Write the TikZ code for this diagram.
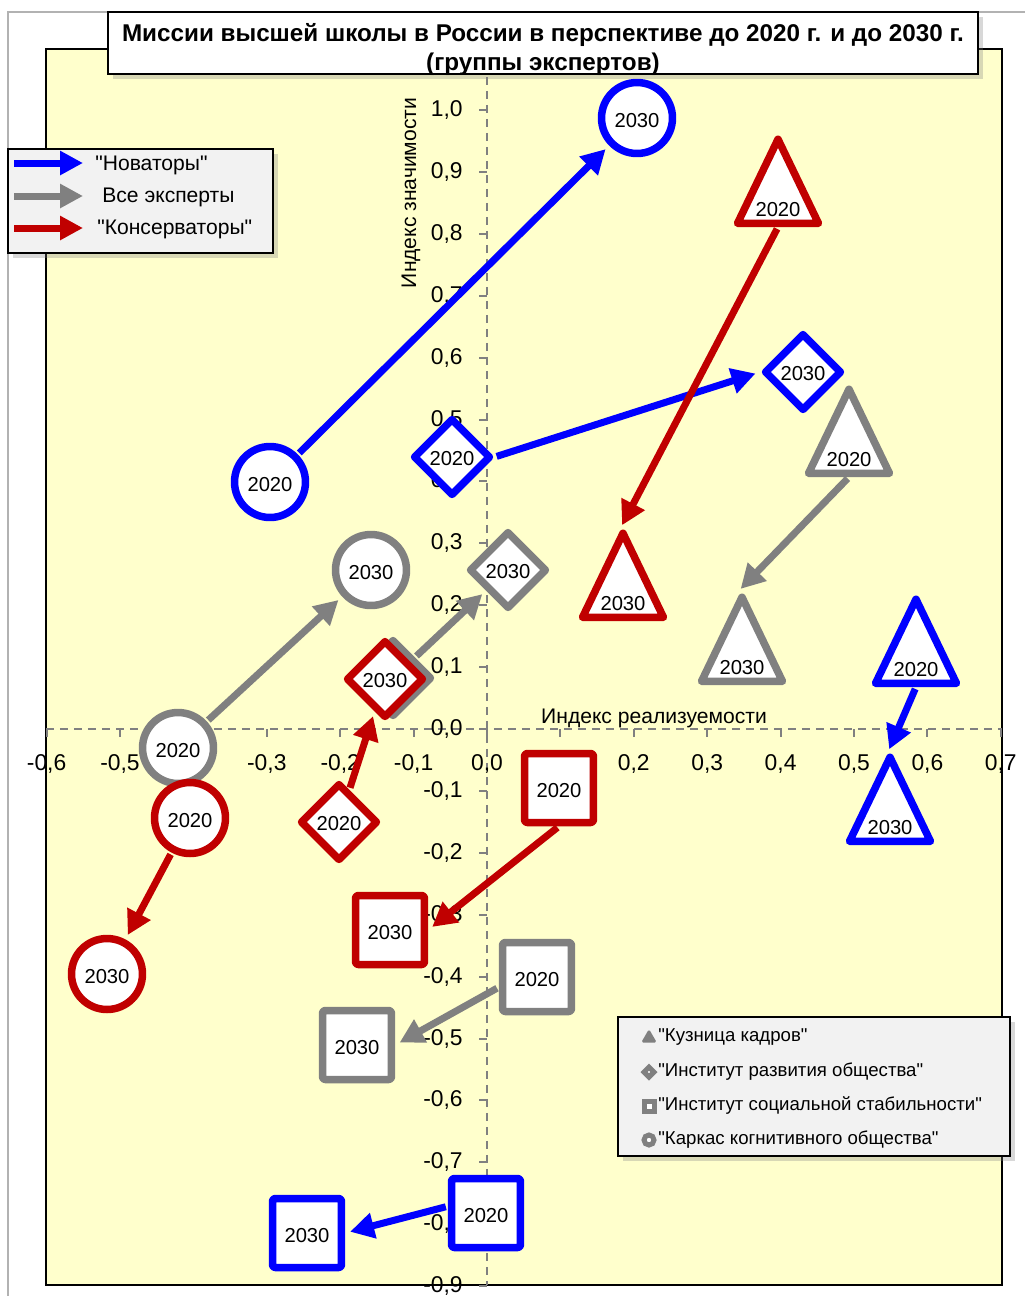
\documentclass[tikz,border=0pt]{standalone}
\usepackage{fontspec}
\setmainfont{Liberation Sans}[Ligatures=TeXOff]
\usetikzlibrary{shapes.geometric,arrows.meta,shadows}
\definecolor{novblue}{RGB}{0,0,255}
\definecolor{vsegray}{RGB}{128,128,128}
\definecolor{konred}{RGB}{192,0,0}
\definecolor{plotfill}{RGB}{255,255,204}
\definecolor{legfill}{RGB}{242,242,242}
\begin{document}
\begin{tikzpicture}[x=0.02cm,y=-0.02cm,>={Triangle[length=0.48cm,width=0.5cm]},
    mkr/.style={draw,fill=white,line width=0.15cm,line join=round,inner sep=0pt,font=\fontsize{11.5}{13}\selectfont},
    kar/.style={mkr,circle,minimum size=1.42cm,text height=11pt,text depth=0pt},
    razv/.style={mkr,diamond,minimum size=1.56cm,text height=10pt,text depth=0pt},
    stab/.style={mkr,rectangle,rounded corners=1.5pt,minimum size=1.38cm,text height=11pt,text depth=0pt},
    kuz/.style={mkr,isosceles triangle,isosceles triangle stretches=true,shape border rotate=90,minimum width=1.62cm,minimum height=1.48cm,inner sep=2pt},
    link/.style={->,line width=0.14cm,shorten <=0.04cm,shorten >=0.1cm},
    kuzlink/.style={link,shorten >=-0.04cm},
    axisln/.style={vsegray,line width=0.05cm,dash pattern=on 0.16cm off 0.12cm},
    tickln/.style={vsegray,line width=0.04cm},
    ticklbl/.style={inner sep=0pt,font=\fontsize{13}{15}\selectfont},
    axtitle/.style={inner sep=0pt,font=\fontsize{12}{14}\selectfont},
    legbox/.style={draw,fill=legfill,line width=0.04cm,drop shadow={opacity=0.3}},
    legtxt/.style={inner sep=0pt,anchor=west,font=\fontsize{12}{14}\selectfont},
    legtxtb/.style={inner sep=0pt,anchor=west,font=\fontsize{10.6}{12}\selectfont},
    legarr/.style={-{Triangle[length=0.46cm,width=0.46cm]},line width=0.14cm},
    legsym/.style={draw=vsegray,fill=white,line width=0.1cm,inner sep=0pt,minimum size=0.2cm}]
    \useasboundingbox (0,0) rectangle (1025,1296);
    \fill[white] (0,0) rectangle (1025,1296);
    \draw[gray!60,line width=0.03cm] (8,1296) -- (8,12) -- (1025,12);
    \draw[fill=plotfill,line width=0.04cm] (46,49) rectangle (1002,1285);
    \draw[axisln] (46,729) -- (1002,729);
    \draw[axisln] (487,49) -- (487,1285);
    \foreach \i in {-6,...,7}
        \draw[tickln] ({487+73.4*\i},729) -- ++(0,8);
    \foreach \i in {-9,...,10}
        \draw[tickln] (479,{729-61.9*\i}) -- (487,{729-61.9*\i});
    \foreach \t [count=\j] in {{-0,6},{-0,5},{-0,4},{-0,3},{-0,2},{-0,1},{0,0},{0,1},{0,2},{0,3},{0,4},{0,5},{0,6},{0,7}}
        \node[ticklbl] (xl\j) at ({487+73.4*(\j-7)},764) {\t};
    \foreach \t [count=\j] in {{1,0},{0,9},{0,8},{0,7},{0,6},{0,5},{0,4},{0,3},{0,2},{0,1},{0,0},{-0,1},{-0,2},{-0,3},{-0,4},{-0,5},{-0,6},{-0,7},{-0,8},{-0,9}}
        \node[ticklbl,anchor=east] (yl\j) at (463,{729-61.9*(11-\j)}) {\t};
    \node[axtitle] (xtitle) at (654,718) {Индекс реализуемости};
    \node[axtitle,rotate=90] (ytitle) at (411,193) {Индекс значимости};

    \node[kar,draw=novblue] (nkar20) at (270,482) {2020};
    \node[kar,draw=novblue] (nkar30) at (637,118) {2030};
    \node[razv,draw=novblue] (nrazv20) at (452,457) {2020};
    \node[razv,draw=novblue] (nrazv30) at (803,372) {2030};
    \node[kuz,draw=novblue] (nkuz20) at (916,670) {2020};
    \node[kuz,draw=novblue] (nkuz30) at (890,828) {2030};
    \node[stab,draw=novblue] (nstab20) at (486,1213) {2020};
    \node[stab,draw=novblue] (nstab30) at (307,1233) {2030};
    \draw[link,novblue] (nkar20) -- (nkar30);
    \draw[link,novblue] (nrazv20.east) -- (nrazv30.west);
    \draw[kuzlink,novblue] (nkuz20.lower side) -- (nkuz30.apex);
    \draw[link,novblue] (nstab20.170) -- (nstab30.east);

    \node[kar,draw=vsegray] (vkar20) at (178,748) {2020};
    \node[kar,draw=vsegray] (vkar30) at (371,570) {2030};
    \node[razv,draw=vsegray] (vrazv20) at (393,678) {2020};
    \node[razv,draw=vsegray] (vrazv30) at (508,570) {2030};
    \node[kuz,draw=vsegray] (vkuz20) at (849,460) {2020};
    \node[kuz,draw=vsegray] (vkuz30) at (742,668) {2030};
    \node[stab,draw=vsegray] (vstab20) at (537,977) {2020};
    \node[stab,draw=vsegray] (vstab30) at (357,1045) {2030};
    \draw[link,vsegray] (vkar20) -- (vkar30);
    \draw[link,vsegray] (vrazv20) -- (vrazv30);
    \draw[kuzlink,vsegray] (vkuz20.lower side) -- (vkuz30.apex);
    \draw[link,vsegray] (vstab20.195) -- (vstab30.east);

    \node[kar,draw=konred] (kkar20) at (190,818) {2020};
    \node[kar,draw=konred] (kkar30) at (107,974) {2030};
    \node[razv,draw=konred] (krazv20) at (339,822) {2020};
    \node[razv,draw=konred] (krazv30) at (385,679) {2030};
    \node[kuz,draw=konred] (kkuz20) at (778,210) {2020};
    \node[kuz,draw=konred] (kkuz30) at (623,604) {2030};
    \node[stab,draw=konred] (kstab20) at (559,788) {2020};
    \node[stab,draw=konred] (kstab30) at (390,930) {2030};
    \draw[link,konred] (kkar20) -- (kkar30);
    \draw[link,konred] (krazv20) -- (krazv30);
    \draw[kuzlink,konred] (kkuz20.lower side) -- (kkuz30.apex);
    \draw[link,konred] (kstab20.south) -- (kstab30.east);

    \node[draw,fill=white,line width=0.03cm,drop shadow={opacity=0.3},minimum width=17.4cm,minimum height=1.24cm] (title) at (543,43) {};
    \node[align=center,inner sep=0pt,font=\bfseries\fontsize{13.8}{16.5}\selectfont] (titletxt) at (543,49) {Миссии высшей школы в России в перспективе до 2020 г. и до 2030 г.\\(группы экспертов)};

    \node[legbox,minimum width=5.3cm,minimum height=2.08cm] (leg1) at (140.5,201) {};
    \node[legtxt] (lnov) at (95,165) {"Новаторы"};
    \node[legtxt] (lvse) at (102,197) {Все эксперты};
    \node[legtxt] (lkon) at (97,229) {"Консерваторы"};
    \coordinate (lnova) at (14,163);
    \coordinate (lnovb) at (83,163);
    \coordinate (lvsea) at (14,196);
    \coordinate (lvseb) at (83,196);
    \coordinate (lkona) at (14,228);
    \coordinate (lkonb) at (83,228);
    \draw[legarr,novblue] (lnova) -- (lnovb);
    \draw[legarr,vsegray] (lvsea) -- (lvseb);
    \draw[legarr,konred] (lkona) -- (lkonb);

    \node[legbox,line width=0.03cm,minimum width=7.84cm,minimum height=2.78cm] (leg2) at (814,1086.5) {};
    \node[fill=vsegray,regular polygon,regular polygon sides=3,minimum size=0.36cm,inner sep=0pt,rounded corners=1pt] (skuz) at (649,1038) {};
    \node[legsym,diamond,minimum size=0.24cm] (srazv) at (649,1072) {};
    \node[legsym] (sstab) at (649,1106) {};
    \node[legsym,circle] (skar) at (649,1140) {};
    \node[legtxtb] (tkuz) at (658,1037) {"Кузница кадров"};
    \node[legtxtb] (trazv) at (658,1072) {"Институт развития общества"};
    \node[legtxtb] (tstab) at (658,1106) {"Институт социальной стабильности"};
    \node[legtxtb] (tkar) at (658,1140) {"Каркас когнитивного общества"};
\end{tikzpicture}
\end{document}
